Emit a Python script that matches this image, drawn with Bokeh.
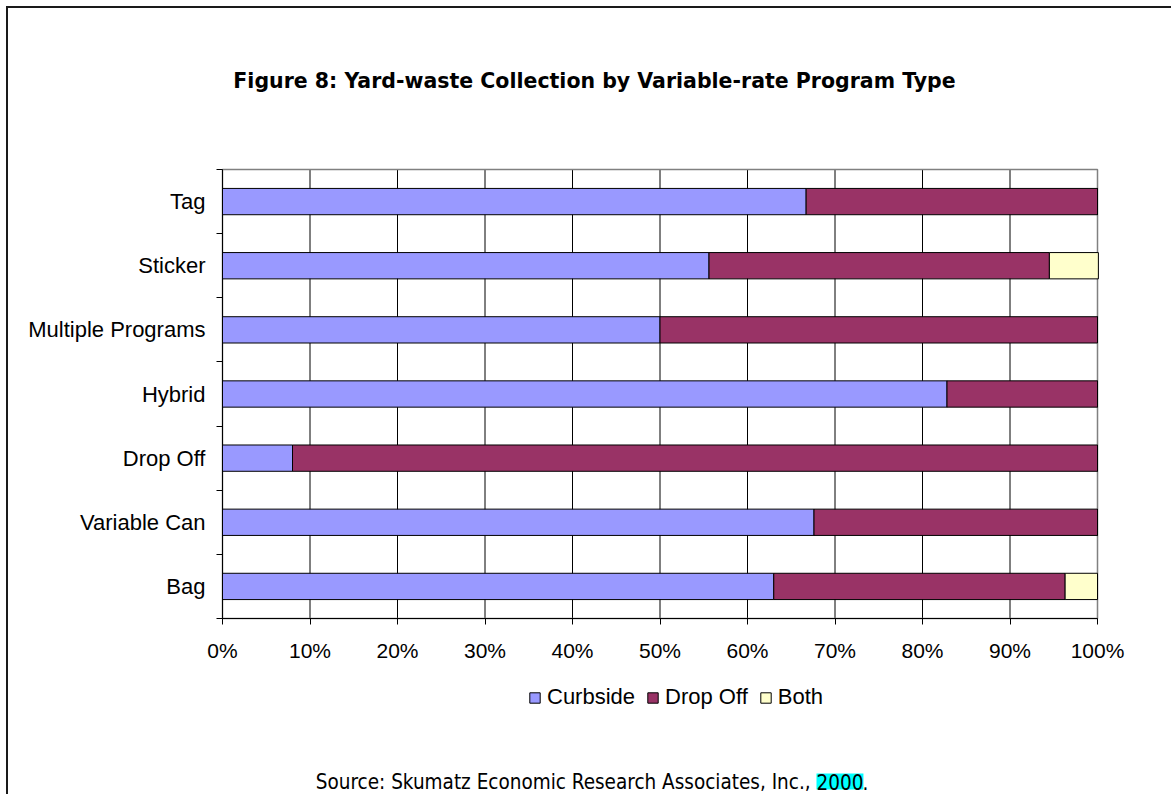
from bokeh.plotting import figure
from bokeh.models import (ColumnDataSource, FixedTicker, PrintfTickFormatter, Label,
                          Legend, LegendItem)
from bokeh.embed import file_html
from bokeh.resources import INLINE

categories = ["Bag", "Variable Can", "Drop Off", "Hybrid", "Multiple Programs", "Sticker", "Tag"]
curbside = [63.0, 67.6, 8.0, 82.8, 50.0, 55.6, 66.7]
drop_off = [33.3, 32.4, 92.0, 17.2, 50.0, 38.9, 33.3]
both = [3.7, 0.0, 0.0, 0.0, 0.0, 5.6, 0.0]
series_names = ["Curbside", "Drop Off", "Both"]
series_colors = ["#9999FF", "#993366", "#FFFFCC"]
x_ticks = [0, 10, 20, 30, 40, 50, 60, 70, 80, 90, 100]
title_text = "Figure 8: Yard-waste Collection by Variable-rate Program Type"
source_text = "Source: Skumatz Economic Research Associates, Inc., "
source_year = "2000"

# canvas size (canvas starts at page x=8, y=8 thanks to the 6px margin + 2px border)
W, H = 1165, 788
# plot area in canvas pixels
PL, PR, PT, PB = 214, 1089, 161, 610
n = len(categories)
xpx = (PR - PL) / 100.0
ypx = (PB - PT) / float(n)
x_start, x_end = -PL / xpx, 100 + (W - PR) / xpx
y_start, y_end = -(H - PB) / ypx, n + PT / ypx

ypos = [i + 0.5 for i in range(n)]
src = ColumnDataSource(dict(y=ypos, Curbside=curbside, DropOff=drop_off, Both=both))

p = figure(width=W, height=H, output_backend="svg", toolbar_location=None,
           x_range=(x_start, x_end), y_range=(y_start, y_end),
           min_border=0)
p.styles = {"border-left": "2px solid #1a1a1a", "border-top": "2px solid #1a1a1a",
            "margin-left": "6px", "margin-top": "6px"}
p.background_fill_color = "white"
p.border_fill_color = "white"
p.outline_line_color = None
p.grid.visible = False

inner = x_ticks[1:-1]
p.segment(x0=inner, y0=[0] * len(inner), x1=inner, y1=[n] * len(inner),
          line_color="black", line_width=1)
p.quad(left=[0], right=[100], bottom=[0], top=[n], fill_color=None,
       line_color="#808080", line_width=1.5)

rs = p.hbar_stack(["Curbside", "DropOff", "Both"], y="y", height=0.41, source=src,
                  color=series_colors, line_color="black", line_width=1)

p.xaxis.fixed_location = 0
p.xaxis.bounds = (0, 100)
p.xaxis.ticker = FixedTicker(ticks=x_ticks)
p.xaxis.formatter = PrintfTickFormatter(format="%d%%")
p.xaxis.major_tick_out = 6
p.xaxis.major_tick_in = 0
p.xaxis.minor_tick_out = 0
p.xaxis.minor_tick_in = 0
p.xaxis.axis_line_color = "black"
p.xaxis.major_label_standoff = 14
p.xaxis.major_label_text_font = "Liberation Sans"
p.xaxis.major_label_text_font_size = "21px"
p.xaxis.major_label_text_color = "black"

p.yaxis.fixed_location = 0
p.yaxis.bounds = (0, n)
p.yaxis.ticker = FixedTicker(ticks=ypos, minor_ticks=list(range(n + 1)))
p.yaxis.major_label_overrides = {y: c for y, c in zip(ypos, categories)}
p.yaxis.major_tick_out = 0
p.yaxis.major_tick_in = 0
p.yaxis.minor_tick_out = 6
p.yaxis.minor_tick_in = 0
p.yaxis.minor_tick_line_color = "black"
p.yaxis.axis_line_color = "black"
p.yaxis.major_label_standoff = 11
p.yaxis.major_label_text_font = "Liberation Sans"
p.yaxis.major_label_text_font_size = "22px"
p.yaxis.major_label_text_color = "black"

def sx(page_x):
    return page_x - 8

def sy(page_y):
    return H - (page_y - 8)

p.add_layout(Label(x=sx(594), y=sy(80), x_units="screen", y_units="screen", text=title_text,
                   text_align="center", text_baseline="alphabetic",
                   text_font="DejaVu Sans", text_font_style="bold", text_font_size="20.5px",
                   text_color="black"))

legend = Legend(items=[LegendItem(label=nm, renderers=[r]) for nm, r in zip(series_names, rs)],
                orientation="horizontal", location=(sx(528), sy(710)),
                glyph_width=13, glyph_height=13, label_standoff=6, spacing=11,
                padding=0, margin=0, border_line_color=None, background_fill_alpha=0,
                label_text_font="Liberation Sans", label_text_font_size="22px",
                label_text_color="black", label_height=13)
p.add_layout(legend, "center")

src_font = "Liberation Sans Narrow, DejaVu Sans Condensed, Liberation Sans"
src_y = sy(781)
p.add_layout(Label(x=sx(816), y=src_y, x_units="screen", y_units="screen", text=source_text,
                   text_align="right", text_baseline="alphabetic",
                   text_font=src_font, text_font_size="20.5px", text_color="black"))
p.add_layout(Label(x=sx(816), y=src_y, x_units="screen", y_units="screen", text=source_year,
                   text_align="left", text_baseline="alphabetic",
                   text_font=src_font, text_font_size="20.5px", text_color="black",
                   background_fill_color="#00FFFF", padding=0))
p.add_layout(Label(x=sx(862), y=src_y, x_units="screen", y_units="screen", text=".",
                   text_align="left", text_baseline="alphabetic",
                   text_font=src_font, text_font_size="20.5px", text_color="black"))

open("out.html", "w").write(file_html(p, INLINE))
